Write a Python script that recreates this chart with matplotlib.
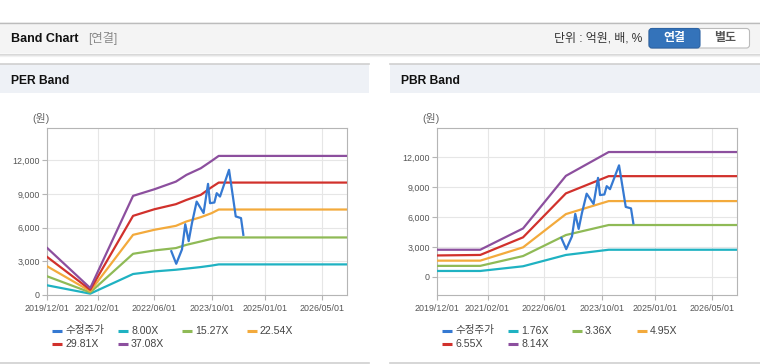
import matplotlib
matplotlib.use('Agg')
import matplotlib.pyplot as plt
import matplotlib.dates as mdates
from matplotlib.patches import Rectangle, FancyBboxPatch
import pandas as pd

plt.rcParams['font.family'] = ['Liberation Sans', 'Noto Sans CJK KR', 'DejaVu Sans']

# === Data ===
x_start, x_end = '2019-12-01', '2026-12-01'
tick_dates = ['2019-12-01', '2021-02-01', '2022-06-01', '2023-10-01', '2025-01-01', '2026-05-01']
y_ticks = [0, 3000, 6000, 9000, 12000]

price_dates = ['2022-10-23', '2022-12-04', '2023-01-22', '2023-02-19', '2023-03-20', '2023-04-17',
               '2023-05-27', '2023-07-09', '2023-07-25', '2023-09-01', '2023-09-18', '2023-10-25',
               '2023-11-14', '2023-12-12', '2024-02-27', '2024-04-04', '2024-04-24', '2024-06-08',
               '2024-06-28']
price = [3900, 2780, 4060, 6300, 4800, 6400, 8320, 7580, 7300, 9900, 8180, 8240,
         9070, 8770, 11150, 8470, 7000, 6850, 5360]

per_dates = ['2019-12-01', '2020-12-01', '2021-12-01', '2022-06-01', '2022-12-01', '2023-03-01',
             '2023-07-01', '2023-10-01', '2023-12-01', '2026-12-01']
per_labels = ['8.00X', '15.27X', '22.54X', '29.81X', '37.08X']
per_800 = [860, 120, 1870, 2100, 2250, 2350, 2490, 2620, 2726, 2726]
per_1527 = [1660, 230, 3670, 3970, 4180, 4470, 4770, 5000, 5126, 5126]
per_2254 = [2550, 340, 5360, 5810, 6160, 6550, 6930, 7290, 7615, 7615]
per_2981 = [3380, 470, 7050, 7640, 8090, 8470, 8920, 9600, 10015, 10015]
per_3708 = [4180, 620, 8830, 9420, 10100, 10700, 11290, 11940, 12390, 12390]

pbr_dates = ['2019-12-01', '2020-12-01', '2021-12-01', '2022-12-01', '2023-12-01', '2026-12-01']
pbr_labels = ['1.76X', '3.36X', '4.95X', '6.55X', '8.14X']
pbr_176 = [600, 600, 1070, 2200, 2720, 2720]
pbr_336 = [1110, 1110, 2090, 4190, 5190, 5190]
pbr_495 = [1630, 1630, 2960, 6280, 7580, 7580]
pbr_655 = [2150, 2200, 3960, 8350, 10070, 10070]
pbr_814 = [2720, 2720, 4850, 10100, 12480, 12480]

band_colors = ['#1fb2c2', '#8fba56', '#f3aa3c', '#d1312c', '#8c4f9e']
price_color = '#3579d2'

# === Figure ===
W, H = 760, 364
fig = plt.figure(figsize=(W / 100, H / 100), dpi=100)
bg = fig.add_axes([0, 0, 1, 1], zorder=0)
bg.set_xlim(0, W)
bg.set_ylim(H, 0)
bg.axis('off')

# header bar
bg.add_patch(Rectangle((0, 22), W, 31, facecolor='#f4f4f4', edgecolor='none'))
bg.plot([0, W], [22.5, 22.5], color='#bcbcbc', lw=1)
for i, a in enumerate([0.35, 0.2, 0.1]):
    bg.plot([0, W], [53.5 + i, 53.5 + i], color='#999999', alpha=a, lw=1)
bg.text(11, 38.5, 'Band Chart', fontsize=9, fontweight='bold', color='#111111', va='center')
bg.text(88, 38.5, '[연결]', fontsize=8.8, color='#888888', va='center')
bg.text(642, 38.5, '단위 : 억원, 배, %', fontsize=8.6, color='#333333', va='center', ha='right')
bg.add_patch(FancyBboxPatch((649, 28.5), 100.5, 19.5, boxstyle='round,pad=0,rounding_size=3',
                            facecolor='white', edgecolor='#bbbbbb', lw=0.8))
bg.add_patch(FancyBboxPatch((649, 28.5), 51, 19.5, boxstyle='round,pad=0,rounding_size=3',
                            facecolor='#3473ba', edgecolor='#2d64a5', lw=0.8))
bg.text(674.5, 38.5, '연결', fontsize=8.6, fontweight='bold', color='white', va='center', ha='center')
bg.text(725, 38.5, '별도', fontsize=8.6, fontweight='bold', color='#555555', va='center', ha='center')

# panels
panels = [(0, 369, 'PER Band'), (390, 760, 'PBR Band')]
for x0, x1, title in panels:
    bg.add_patch(Rectangle((x0, 64), x1 - x0, 29, facecolor='#eef1f6', edgecolor='none'))
    bg.plot([x0, x1], [64, 64], color='#cfcfcf', lw=1.2)
    bg.plot([x0, x1], [362.5, 362.5], color='#cfcfcf', lw=1.2)
    bg.text(x0 + 11, 80.5, title, fontsize=8.7, fontweight='bold', color='#111111', va='center')
    bg.text(x0 + 32, 118, '(원)', fontsize=7.8, color='#666666', va='center')

# legends
col_x = [52, 118, 182, 247]
row_y = [330.5, 344]
for x0, labels in [(0, per_labels), (390, pbr_labels)]:
    names = ['수정주가'] + labels
    colors = [price_color] + band_colors
    for i, (name, c) in enumerate(zip(names, colors)):
        lx = x0 + col_x[i % 4]
        ly = row_y[i // 4]
        bg.plot([lx, lx + 10], [ly, ly], color=c, lw=2.2, solid_capstyle='butt')
        bg.text(lx + 13, ly, name, fontsize=7.6, color='#444444', va='center')


def draw_chart(ax, dates, bands, ymin, ymax):
    d = pd.to_datetime(dates)
    for vals, c in zip(bands, band_colors):
        ax.plot(d, vals, color=c, lw=1.6, zorder=3)
    ax.plot(pd.to_datetime(price_dates), price, color=price_color, lw=1.6, zorder=4)
    ax.set_xlim(pd.Timestamp(x_start), pd.Timestamp(x_end))
    ax.set_ylim(ymin, ymax)
    ax.set_xticks(pd.to_datetime(tick_dates))
    ax.xaxis.set_major_formatter(mdates.DateFormatter('%Y/%m/%d'))
    ax.set_yticks(y_ticks)
    ax.set_yticklabels([f'{v:,}' for v in y_ticks])
    ax.grid(True, color='#e6e6e6', lw=0.8)
    ax.set_axisbelow(True)
    for s in ax.spines.values():
        s.set_color('#b5b5b5')
        s.set_linewidth(0.8)
    ax.tick_params(axis='both', labelsize=6.4, labelcolor='#555555', color='#b5b5b5',
                   length=3.5, width=0.8, pad=2)
    ax.tick_params(axis='x', pad=3)


ax_y = 1 - 295 / H
ax_h = (295 - 128.3) / H
ax_per = fig.add_axes([47.3 / W, ax_y, 300 / W, ax_h], zorder=1)
draw_chart(ax_per, per_dates, [per_800, per_1527, per_2254, per_2981, per_3708], 0, 14850)

ax_pbr = fig.add_axes([437.3 / W, ax_y, 300 / W, ax_h], zorder=1)
draw_chart(ax_pbr, pbr_dates, [pbr_176, pbr_336, pbr_495, pbr_655, pbr_814], -1800, 14850)

fig.savefig('out.png', dpi=100)
